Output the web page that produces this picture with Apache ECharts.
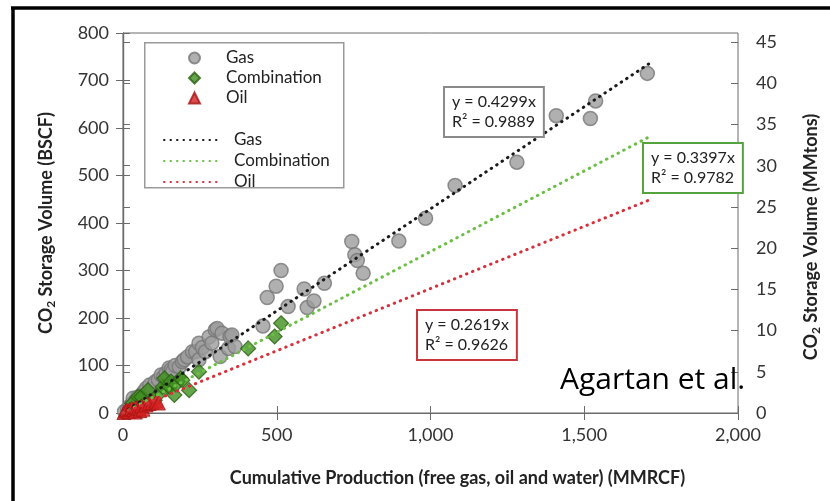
<!DOCTYPE html>
<html><head><meta charset="utf-8">
<script src="https://cdn.jsdelivr.net/npm/echarts@6/dist/echarts.min.js"></script>
<style>html,body{margin:0;padding:0;background:#fff}#c{width:830px;height:501px}</style>
</head><body><div id="c"></div>
<script>
// ---- data ----
const xTicks = [0, 500, 1000, 1500, 2000];
const leftTicks = [0, 100, 200, 300, 400, 500, 600, 700, 800];
const rightTicks = [0, 5, 10, 15, 20, 25, 30, 35, 40, 45];
const gasPoints = [
  [5,3],[15,8],[22,14],[30,20],[33,31],[40,25],[48,33],[55,28],[60,38],[68,45],[76,52],[87,59],[95,50],
  [105,66],[115,70],[124,80],[132,76],[140,84],[150,95],[156,91],[161,87],[170,100],[183,97],[193,108],
  [199,112],[210,118],[226,129],[236,129],[247,112],[247,147],[258,138],[268,129],[280,160],[289,147],
  [300,175],[306,178],[316,119],[322,168],[343,136],[348,161],[354,164],[364,140],
  [455,183],[469,243],[498,267],[514,300],[537,224],[589,261],[599,222],[621,236],[655,273],
  [744,361],[754,333],[762,321],[781,294],[897,362],[984,410],[1080,479],[1281,528],[1409,626],
  [1520,620],[1537,657],[1705,715]
];
const combinationPoints = [
  [30,20],[49,34],[60,34],[81,48],[103,27],[124,45],[129,55],[135,73],[151,55],[156,66],[167,38],
  [172,60],[188,73],[193,69],[215,48],[247,87],[407,136],[493,161],[514,189]
];
const oilPoints = [
  [3,1],[8,4],[12,6],[18,3],[22,8],[28,10],[35,7],[40,2],[42,12],[50,10],[55,5],[60,15],[65,8],
  [75,17],[85,20],[95,22],[108,25],[115,21]
];
const gasFit = [[0,0],[1710,735]];
const combinationFit = [[0,0],[1710,581]];
const oilFit = [[0,0],[1710,448]];
const fitLabels = {
  gas: ['y = 0.4299x', 'R² = 0.9889'],
  combination: ['y = 0.3397x', 'R² = 0.9782'],
  oil: ['y = 0.2619x', 'R² = 0.9626']
};

const FONT = 'Lato, "Open Sans", sans-serif';
const chart = echarts.init(document.getElementById('c'), null, {renderer: 'canvas'});

const tickLen = 7;
const axisColor = '#6b6b6b';

function fitBox(lines, x, y, color) {
  return {
    type: 'text', left: x, top: y, z: 10,
    style: {
      text: lines.join('\n'), font: '16px ' + FONT, fill: '#222', lineHeight: 20,
      padding: [4, 7, 4, 7], borderColor: color, borderWidth: 2, backgroundColor: '#fff'
    }
  };
}

const option = {
  backgroundColor: '#fff',
  textStyle: {fontFamily: FONT},
  grid: {left: 123, top: 33, right: 83, bottom: 88, show: true, borderColor: axisColor, borderWidth: 1},
  xAxis: [
    {
      type: 'value', min: 0, max: 2000, interval: 500,
      axisLine: {show: true, lineStyle: {color: axisColor, width: 1.2}},
      axisTick: {show: true, length: tickLen, lineStyle: {color: axisColor}},
      splitLine: {show: false},
      axisLabel: {color: '#333', fontSize: 18, fontFamily: FONT, margin: 13,
        customValues: xTicks,
        formatter: v => v.toLocaleString('en-US')},
      name: 'Cumulative Production (free gas, oil and water) (MMRCF)',
      nameLocation: 'middle', nameGap: 56,
      nameTextStyle: {fontSize: 18, fontWeight: 'bold', color: '#222', fontFamily: FONT, padding: [0, 0, 0, 54]}
    },
    {
      type: 'value', min: 0, max: 2000, interval: 500, position: 'bottom',
      axisLine: {show: false}, splitLine: {show: false}, axisLabel: {show: false},
      axisTick: {show: true, inside: true, length: tickLen, lineStyle: {color: axisColor}}
    }
  ],
  yAxis: [
    {
      type: 'value', min: 0, max: 800, interval: 100, position: 'left',
      axisLine: {show: true, lineStyle: {color: axisColor, width: 1.2}},
      axisTick: {show: true, length: tickLen, lineStyle: {color: axisColor}},
      splitLine: {show: false},
      axisLabel: {color: '#333', fontSize: 18, fontFamily: FONT, margin: 14, customValues: leftTicks},
      name: '{a|CO}{s|2}{a| Storage Volume (BSCF)}',
      nameLocation: 'middle', nameGap: 66, nameRotate: 90,
      nameTextStyle: {
        rich: {
          a: {fontSize: 18, fontWeight: 'bold', color: '#222', fontFamily: FONT, lineHeight: 22},
          s: {fontSize: 12, fontWeight: 'bold', color: '#222', fontFamily: FONT, verticalAlign: 'bottom', lineHeight: 14}
        }
      }
    },
    {
      type: 'value', min: 0, max: 46.1, position: 'right',
      axisLine: {show: true, lineStyle: {color: axisColor, width: 1.2}},
      axisTick: {show: true, length: tickLen, lineStyle: {color: axisColor}, customValues: rightTicks},
      splitLine: {show: false},
      axisLabel: {color: '#333', fontSize: 18, fontFamily: FONT, margin: 18, customValues: rightTicks},
      name: '{a|CO}{s|2}{a| Storage Volume (MMtons)}',
      nameLocation: 'middle', nameGap: 62, nameRotate: 90,
      nameTextStyle: {
        padding: [0, 28, 0, 0],
        rich: {
          a: {fontSize: 18, fontWeight: 'bold', color: '#222', fontFamily: FONT, lineHeight: 22},
          s: {fontSize: 12, fontWeight: 'bold', color: '#222', fontFamily: FONT, verticalAlign: 'bottom', lineHeight: 14}
        }
      }
    },
    {
      type: 'value', min: 0, max: 800, interval: 100, position: 'left',
      axisLine: {show: false}, splitLine: {show: false}, axisLabel: {show: false},
      axisTick: {show: true, inside: true, length: tickLen, lineStyle: {color: axisColor}}
    },
    {
      type: 'value', min: 0, max: 46.1, position: 'right',
      axisLine: {show: false}, splitLine: {show: false}, axisLabel: {show: false},
      axisTick: {show: true, inside: true, length: tickLen, lineStyle: {color: axisColor}, customValues: rightTicks}
    }
  ],
  legend: [
    {
      data: ['Gas', 'Combination', 'Oil'], orient: 'vertical', left: 183, top: 44,
      itemWidth: 11, itemHeight: 11, itemGap: 2,
      textStyle: {fontSize: 17, lineHeight: 18, color: '#222', fontFamily: FONT, padding: [0, 0, 0, 21]}
    },
    {
      data: ['Gas fit', 'Combination fit', 'Oil fit'], orient: 'vertical', left: 158, top: 126,
      itemWidth: 57, itemHeight: 14, itemGap: 3,
      itemStyle: {opacity: 0},
      formatter: n => n.replace(' fit', ''),
      textStyle: {fontSize: 17, lineHeight: 18, color: '#222', fontFamily: FONT, padding: [0, 0, 0, 8]}
    }
  ],
  graphic: [
    {type: 'rect', left: 144, top: 42, z: -1, shape: {width: 199, height: 145},
      style: {fill: '#fff', stroke: '#9a9a9a', lineWidth: 1.5}},
    fitBox(fitLabels.gas, 443, 86, '#8a8a8a'),
    fitBox(fitLabels.combination, 642, 142, '#55a33f'),
    fitBox(fitLabels.oil, 416, 309, '#c9353d'),
    {type: 'text', left: 560, top: 365, z: 10,
      style: {text: 'Agartan et al.', font: '30px "Open Sans", sans-serif', fill: '#000'}},
    {type: 'line', z: 20, shape: {x1: 13, y1: 8, x2: 13, y2: 501}, style: {stroke: '#000', lineWidth: 3.5}},
    {type: 'line', z: 20, shape: {x1: 11, y1: 8, x2: 830, y2: 8}, style: {stroke: '#000', lineWidth: 3.5}}
  ],
  series: [
    {name: 'Gas', type: 'scatter', data: gasPoints, symbol: 'circle', symbolSize: 14,
      itemStyle: {color: '#9c9c9c', borderColor: '#777', borderWidth: 1.5}, z: 2},
    {name: 'Combination', type: 'scatter', data: combinationPoints, symbol: 'diamond', symbolSize: 15,
      itemStyle: {color: '#3e8e1e', borderColor: '#2b5f12', borderWidth: 1.2}, z: 3},
    {name: 'Oil', type: 'scatter', data: oilPoints, symbol: 'triangle', symbolSize: 14,
      itemStyle: {color: '#d42020', borderColor: '#a51414', borderWidth: 1}, z: 4},
    {name: 'Gas fit', type: 'line', data: gasFit, symbol: 'none', z: 5,
      lineStyle: {color: '#1a1a1a', width: 3, type: [0.5, 6], cap: 'round'}},
    {name: 'Combination fit', type: 'line', data: combinationFit, symbol: 'none', z: 5,
      lineStyle: {color: '#6cbf45', width: 3, type: [0.5, 6], cap: 'round'}},
    {name: 'Oil fit', type: 'line', data: oilFit, symbol: 'none', z: 5,
      lineStyle: {color: '#d8303a', width: 3, type: [0.5, 6], cap: 'round'}}
  ]
};
chart.setOption(option);
</script>
</body></html>
